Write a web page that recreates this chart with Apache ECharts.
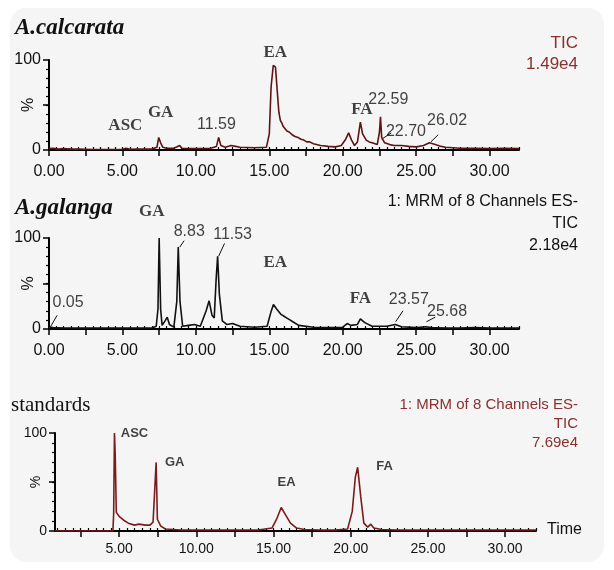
<!DOCTYPE html>
<html><head><meta charset="utf-8">
<script src="https://cdn.jsdelivr.net/npm/echarts/dist/echarts.min.js"></script>
<style>html,body{margin:0;padding:0;background:#fff}#c{width:614px;height:570px}</style>
</head><body><div id="c"></div>
<script>
// ---------- DATA ----------
const xLabelsTop = [0, 5, 10, 15, 20, 25, 30];
const xLabelsStd = [5, 10, 15, 20, 25, 30];
const yLabels = [0, 100];

// A.calcarata TIC [time(min), %]
const calcarata = [[0,1.5],[0.3,2],[0.6,1],[1,1.5],[1.5,1],[2,1],[3,0.5],[4,0.5],[5,0.8],[5.25,2],[5.5,0.8],[6,1],[7,1],[7.35,3],[7.47,14],[7.6,8],[7.75,3],[8,2],[8.5,2],[8.9,5],[9.05,2],[10,1.5],[11,2],[11.4,4],[11.55,14],[11.7,5],[12,3],[12.4,5],[12.7,4],[13,3],[14,2.5],[14.8,3],[15.0,18],[15.12,70],[15.27,94],[15.42,92],[15.52,70],[15.65,42],[15.75,33],[15.85,30],[15.95,26],[16.05,24],[16.2,21],[16.35,20],[16.55,17],[16.75,15],[16.95,14],[17.15,12],[17.35,11],[17.55,9],[17.75,9],[18,7],[18.5,5],[19,4],[19.5,3.5],[19.9,5],[20.2,12],[20.4,19],[20.6,11],[20.8,5],[21.0,9],[21.2,31],[21.35,18],[21.6,11],[21.8,9],[22,8],[22.35,6],[22.5,20],[22.57,37],[22.65,14],[22.85,8],[23.2,6],[23.5,5],[24,5],[24.5,4],[25,3.5],[25.5,5],[25.9,8],[26.3,6],[26.7,4],[27,3],[28,2],[29,2],[30,1.5],[31,2],[32,1.5]];
// A.galanga TIC
const galanga = [[0,2],[0.05,4],[0.3,1.5],[1,1],[2,1],[3,1],[4,1],[5,1],[6,1],[7,1],[7.3,3],[7.42,22],[7.5,100],[7.6,22],[7.7,4],[7.9,9],[8.05,13],[8.2,5],[8.5,2],[8.7,30],[8.8,90],[8.92,30],[9.1,3],[9.5,4],[9.9,5],[10.3,3],[10.7,20],[10.9,31],[11.1,15],[11.25,12],[11.38,55],[11.48,80],[11.6,38],[11.8,9],[12.1,5],[12.5,6],[13,3],[14,2],[14.85,3],[15.1,18],[15.28,27],[15.5,22],[15.8,16],[16.0,14],[16.2,12],[16.4,10],[16.6,8],[17.0,4],[18,2],[19,1.5],[20,2],[20.3,6],[20.55,4],[21,5],[21.2,11],[21.5,7],[22,3],[23,3],[23.57,5],[24,2.5],[25,1.5],[25.68,2.5],[26,1.5],[27,1],[28,1],[29,1.5],[30,1],[31,1],[32,1]];
// standards TIC
const standards = [[0.85,0],[2,0],[3,0],[4,0],[4.6,0],[4.65,18],[4.7,100],[4.75,78],[4.82,19],[5.0,15],[5.3,11],[5.6,8],[6.0,6],[6.3,7],[6.7,6],[7.0,6],[7.2,9],[7.3,7],[7.4,70],[7.48,12],[7.7,5],[8,2],[9,1],[10,1],[11,1],[12,1],[13,1],[14,1],[14.9,3],[15.2,12],[15.5,24],[15.8,16],[16.1,8],[16.5,3],[17,1.5],[18,1],[19,1],[19.8,2],[20.1,20],[20.3,55],[20.45,65],[20.65,35],[20.85,8],[21.1,4],[21.3,7],[21.5,3],[22,1.5],[23,1],[24,1],[25,1],[26,1],[27,1],[28,1],[29,1],[30,1],[31,1],[32,1]];

// annotations [time, %, text]
const calcNames = [[5.2,27,'ASC'],[7.6,42,'GA'],[15.4,108,'EA'],[21.3,45,'FA']];
const calcTimes = [[11.4,28,'11.59'],[23.1,56,'22.59'],[24.3,21,'22.70'],[27.1,33,'26.02']];
const calcLeaders = [[[22.65,12],[23.3,19]],[[26.0,9],[26.5,17]]];
const galNames = [[7.0,129,'GA'],[15.4,73,'EA'],[21.2,33,'FA']];
const galTimes = [[1.3,29,'0.05'],[9.55,107,'8.83'],[12.5,104,'11.53'],[24.5,32,'23.57'],[27.1,19,'25.68']];
const galLeaders = [[[0.05,1],[0.55,15]],[[8.9,90],[9.2,97]],[[11.55,80],[11.95,94]],[[23.6,8],[24.1,20]],[[25.7,8],[26.3,13]]];
const stdNames = [[6.0,100,'ASC'],[8.6,70,'GA'],[15.85,50,'EA'],[22.2,66,'FA']];

// ---------- CHART ----------
const chart = echarts.init(document.getElementById('c'), null, {renderer:'canvas'});
const NARROW = '"Liberation Sans Narrow","Liberation Sans",Arial,sans-serif';
const SERIF = '"Liberation Serif","Times New Roman",serif';
const SANS = '"Liberation Sans",Arial,sans-serif';

function range(a,b,s){const r=[];for(let v=a;v<=b+1e-9;v+=s)r.push(+v.toFixed(2));return r;}

const grids = [
  {left:49, top:60, width:470, height:90, outerBoundsMode:'none', containLabel:false},
  {left:49, top:238, width:470, height:91, outerBoundsMode:'none', containLabel:false},
  {left:55, top:433, width:481, height:98, outerBoundsMode:'none', containLabel:false}
];
const cfg = [
  {min:0, labels:xLabelsTop, font:NARROW, size:16, margin:14},
  {min:0, labels:xLabelsTop, font:NARROW, size:16, margin:14},
  {min:0.85, labels:xLabelsStd, font:SANS, size:14, margin:11}
];
const xAxis=[], yAxis=[];
cfg.forEach((c,i)=>{
  const mid = range(c.min===0?0:2.5, 30, 2.5);
  const minor = range(c.min===0?0:1, 32, 0.5);
  xAxis.push({gridIndex:i,type:'value',min:c.min,max:32,
    axisLine:{lineStyle:{color:'#000',width:2}},
    axisTick:{show:true,customValues:mid,length:6,lineStyle:{color:'#000',width:1.5}},
    axisLabel:{customValues:c.labels,formatter:v=>v.toFixed(2),color:'#111',fontFamily:c.font,fontSize:c.size,margin:c.margin},
    splitLine:{show:false}});
  xAxis.push({gridIndex:i,type:'value',min:c.min,max:32,
    axisLine:{show:false},
    axisTick:{show:true,customValues:minor,length:3,lineStyle:{color:'#000',width:1.2}},
    axisLabel:{show:false},splitLine:{show:false}});
  yAxis.push({gridIndex:i,type:'value',min:0,max:100,
    name:'%',nameLocation:'middle',nameRotate:90,nameGap:12,nameMoveOverlap:false,
    nameTextStyle:{fontFamily:c.font,fontSize:c.size,color:'#111'},
    axisLine:{lineStyle:{color:'#000',width:2}},
    axisTick:{show:true,customValues:[0,50,100],length:6,lineStyle:{color:'#000',width:1.5}},
    axisLabel:{customValues:yLabels,color:'#111',fontFamily:c.font,fontSize:c.size,margin:8},
    splitLine:{show:false}});
  yAxis.push({gridIndex:i,type:'value',min:0,max:100,position:'left',
    axisLine:{show:false},
    axisTick:{show:true,customValues:range(10,90,10),length:3,lineStyle:{color:'#000',width:1.2}},
    axisLabel:{show:false},splitLine:{show:false}});
});

function lineSeries(i,data,color){
  return {type:'line',xAxisIndex:2*i,yAxisIndex:2*i,data:data,showSymbol:false,symbol:'none',
    lineStyle:{color:color,width:1.6},silent:true,animation:false,z:3};
}
function textSeries(i,data,font,size,color,weight){
  return {type:'scatter',xAxisIndex:2*i,yAxisIndex:2*i,data:data,symbolSize:1,clip:false,
    itemStyle:{color:'rgba(0,0,0,0)'},animation:false,silent:true,
    label:{show:true,position:'inside',formatter:p=>p.data[2],fontFamily:font,fontSize:size,color:color,fontWeight:weight}};
}
function leaderSeries(i,data){
  return {type:'lines',coordinateSystem:'cartesian2d',xAxisIndex:2*i,yAxisIndex:2*i,
    data:data.map(d=>({coords:d})),lineStyle:{color:'#111',width:1,opacity:1},animation:false,silent:true,clip:false};
}

const series = [
  lineSeries(0,calcarata,'#5e1414'),
  textSeries(0,calcNames,SERIF,17,'#111','bold'),
  textSeries(0,calcTimes,NARROW,16,'#111','normal'),
  leaderSeries(0,calcLeaders),
  lineSeries(1,galanga,'#111'),
  textSeries(1,galNames,SERIF,17,'#111','bold'),
  textSeries(1,galTimes,NARROW,16,'#111','normal'),
  leaderSeries(1,galLeaders),
  lineSeries(2,standards,'#7a1c1c'),
  textSeries(2,stdNames,SANS,13,'#111','bold')
];

const red = '#8a2f2f';
const graphic = [
  {type:'rect',left:10,top:8,shape:{width:594,height:554,r:16},style:{fill:'#f5f5f5'},z:-10},
  {type:'text',left:15,top:17,style:{text:'A.calcarata',font:'italic bold 23px '+SERIF,fill:'#111'}},
  {type:'text',right:36,top:35,style:{text:'TIC',font:'17px '+NARROW,fill:red,align:'right'}},
  {type:'text',right:36,top:56,style:{text:'1.49e4',font:'17px '+NARROW,fill:red,align:'right'}},
  {type:'text',left:15,top:197,style:{text:'A.galanga',font:'italic bold 23px '+SERIF,fill:'#111'}},
  {type:'text',right:36,top:194,style:{text:'1: MRM of 8 Channels ES-',font:'16px '+NARROW,fill:'#111',align:'right'}},
  {type:'text',right:36,top:216,style:{text:'TIC',font:'16px '+NARROW,fill:'#111',align:'right'}},
  {type:'text',right:36,top:238,style:{text:'2.18e4',font:'16px '+NARROW,fill:'#111',align:'right'}},
  {type:'text',left:11,top:395,style:{text:'standards',font:'21px '+SERIF,fill:'#111'}},
  {type:'text',right:36,top:397,style:{text:'1: MRM of 8 Channels ES-',font:'15px '+SANS,fill:red,align:'right'}},
  {type:'text',right:36,top:416,style:{text:'TIC',font:'15px '+SANS,fill:red,align:'right'}},
  {type:'text',right:36,top:435,style:{text:'7.69e4',font:'15px '+SANS,fill:red,align:'right'}},
  {type:'text',left:547,top:522,style:{text:'Time',font:'16px '+SANS,fill:'#111'}}
];

chart.setOption({animation:false,backgroundColor:'#fff',grid:grids,xAxis:xAxis,yAxis:yAxis,series:series,graphic:graphic});
</script></body></html>
